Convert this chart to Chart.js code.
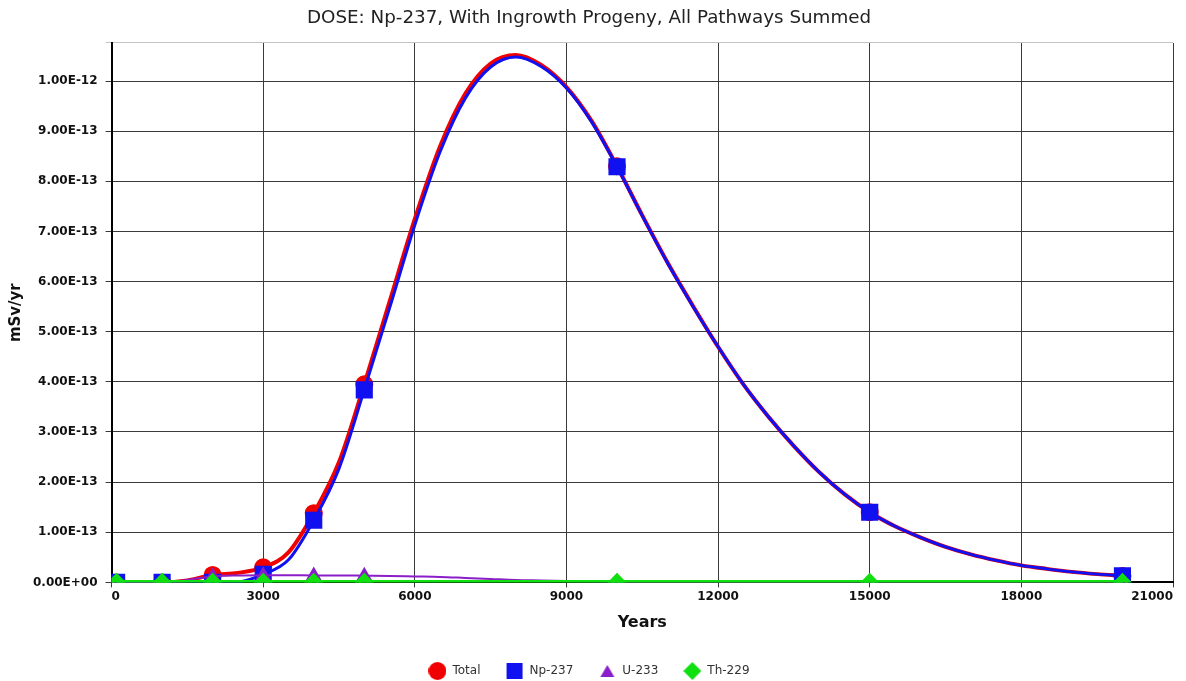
<!DOCTYPE html>
<html>
<head>
<meta charset="utf-8">
<title>Np-237 dose</title>
<script src="https://cdn.jsdelivr.net/npm/chart.js@4.4.1/dist/chart.umd.min.js"></script>
<style>
  html, body { margin: 0; padding: 0; background: #fff; }
  #wrap { width: 1186px; height: 681px; position: relative; }
</style>
</head>
<body>
<div id="wrap"><canvas id="grafico"></canvas></div>
<script>
const grafico = document.getElementById("grafico")

// years after release
const anos = [100, 500, 1000, 1500, 2000, 2500, 3000, 3500, 4000, 4500, 5000,
  5500, 6000, 6500, 7000, 7500, 8000, 8500, 9000, 9500, 10000,
  10500, 11000, 11500, 12000, 12500, 13000, 13500, 14000, 14500, 15000,
  15500, 16000, 16500, 17000, 17500, 18000, 18500, 19000, 19500, 20000]

// dose, mSv/yr
const doseTotal = [0, 0, 0, 4e-15, 1.5e-14, 1.9e-14, 3.0e-14, 6.0e-14, 1.38e-13, 2.4e-13, 3.95e-13,
  5.6e-13, 7.25e-13, 8.7e-13, 9.75e-13, 1.035e-12, 1.052e-12, 1.032e-12, 9.88e-13, 9.2e-13, 8.3e-13,
  7.32e-13, 6.38e-13, 5.52e-13, 4.7e-13, 3.95e-13, 3.3e-13, 2.72e-13, 2.2e-13, 1.76e-13, 1.4e-13,
  1.12e-13, 9.0e-14, 7.1e-14, 5.6e-14, 4.4e-14, 3.4e-14, 2.7e-14, 2.1e-14, 1.65e-14, 1.3e-14]

const doseNp237 = [0, 0, 0, 0, 0, 1e-15, 1.6e-14, 4.5e-14, 1.24e-13, 2.27e-13, 3.84e-13,
  5.47e-13, 7.13e-13, 8.59e-13, 9.66e-13, 1.028e-12, 1.048e-12, 1.029e-12, 9.86e-13, 9.18e-13, 8.29e-13,
  7.31e-13, 6.37e-13, 5.51e-13, 4.7e-13, 3.95e-13, 3.3e-13, 2.72e-13, 2.2e-13, 1.76e-13, 1.4e-13,
  1.12e-13, 9.0e-14, 7.1e-14, 5.6e-14, 4.4e-14, 3.4e-14, 2.7e-14, 2.1e-14, 1.65e-14, 1.3e-14]

const doseU233 = [0, 0, 0, 5e-15, 1.2e-14, 1.4e-14, 1.45e-14, 1.45e-14, 1.4e-14, 1.4e-14, 1.35e-14,
  1.3e-14, 1.2e-14, 1.1e-14, 9e-15, 7e-15, 5e-15, 4e-15, 3e-15, 2e-15, 1e-15,
  1e-15, 1e-15, 5e-16, 5e-16, 5e-16, 0, 0, 0, 0, 0,
  0, 0, 0, 0, 0, 0, 0, 0, 0, 0]

const doseTh229 = [0, 0, 0, 0, 0, 0, 0, 0, 0, 0, 0,
  0, 0, 0, 0, 0, 0, 0, 0, 0, 0,
  0, 0, 0, 0, 0, 0, 0, 0, 0, 0,
  0, 0, 0, 0, 0, 0, 0, 0, 0, 0]

// years that get a symbol on the curves
const anosMarcados = [100, 1000, 2000, 3000, 4000, 5000, 10000, 15000, 20000]

const series = ["Total", "Np-237", "U-233", "Th-229"]
const cores = ["#f00000", "#1010f0", "#8a1ec8", "#10e010"]

const pares = (valores) => anos.map((a, i) => ({ x: a, y: valores[i] }))
const raio = (r) => (ctx) => (ctx.raw && anosMarcados.includes(ctx.raw.x)) ? r : 0

const notacao = (v) => {
    if (Math.abs(v) < 1e-20) return "0.00E+00"
    const [m, e] = v.toExponential(2).split("e")
    const n = parseInt(e)
    return m + "E" + (n < 0 ? "-" : "+") + String(Math.abs(n)).padStart(2, "0")
}

// legend symbols, drawn a bit larger than the chart default
const simbolo = (forma, cor, tam) => {
    const c = document.createElement("canvas")
    c.width = tam
    c.height = tam
    const g = c.getContext("2d")
    const h = tam / 2
    g.fillStyle = cor
    g.beginPath()
    if (forma === "circle") g.arc(h, h, h, 0, Math.PI * 2)
    if (forma === "rect") g.rect(1, 1, tam - 2, tam - 2)
    if (forma === "triangle") { g.moveTo(h, 2); g.lineTo(tam - 1, tam - 2); g.lineTo(1, tam - 2) }
    if (forma === "diamond") { g.moveTo(h, 0); g.lineTo(tam, h); g.lineTo(h, tam); g.lineTo(0, h) }
    g.closePath()
    g.fill()
    return c
}
const simbolosLegenda = [
    simbolo("circle", cores[0], 18),
    simbolo("rect", cores[1], 18),
    simbolo("triangle", cores[2], 16),
    simbolo("diamond", cores[3], 18)
]

Chart.defaults.font.family = '"DejaVu Sans", Verdana, sans-serif'
Chart.defaults.color = "#111"

const linha = "#3a3a3a"

let chart = new Chart(grafico, {
    type: "line",
    data: {
        datasets: [
            {
                label: series[0], data: pares(doseTotal), borderColor: cores[0], backgroundColor: cores[0],
                borderWidth: 4, pointStyle: "circle", pointRadius: raio(7), order: 4
            },
            {
                label: series[1], data: pares(doseNp237), borderColor: cores[1], backgroundColor: cores[1],
                borderWidth: 3, pointStyle: "rect", pointRadius: raio(10), order: 3
            },
            {
                label: series[2], data: pares(doseU233), borderColor: cores[2], backgroundColor: cores[2],
                borderWidth: 2, pointStyle: "triangle", pointRadius: raio(7), order: 2
            },
            {
                label: series[3], data: pares(doseTh229), borderColor: cores[3], backgroundColor: cores[3],
                borderWidth: 5, pointStyle: "rectRot", pointRadius: raio(6), order: 1
            }
        ]
    },
    options: {
        responsive: true,
        maintainAspectRatio: false,
        animation: false,
        layout: { padding: { top: 5, right: 8, bottom: -6, left: 0 } },
        elements: {
            line: { cubicInterpolationMode: "monotone", fill: false },
            point: { borderWidth: 0, hoverRadius: 0 }
        },
        // markers sitting on the axes get cut at the plot edge
        datasets: { line: { clip: 0 } },
        scales: {
            x: {
                type: "linear",
                min: 0,
                max: 21000,
                border: { color: "#000", width: 2 },
                grid: { color: linha, lineWidth: 1, tickLength: 5 },
                ticks: {
                    stepSize: 3000, align: "inner", padding: 2, color: "#111",
                    font: { size: 12, weight: "bold" },
                    callback: (v) => String(v)
                },
                title: { display: true, text: "Years", color: "#111", font: { size: 16, weight: "bold" }, padding: { top: 7, bottom: 8 } }
            },
            y: {
                min: 0,
                max: 1.076e-12,
                border: { color: "#000", width: 2 },
                grid: {
                    lineWidth: 1,
                    tickLength: 6,
                    color: (ctx) => (ctx.tick && ctx.tick.value > 1.0001e-12) ? "#c4c4c4" : linha
                },
                ticks: {
                    stepSize: 1e-13,
                    padding: 8,
                    color: "#111",
                    font: { size: 12, weight: "bold" },
                    callback: (v) => v > 1.0001e-12 ? "" : notacao(v)
                },
                title: { display: true, text: "mSv/yr", color: "#111", font: { size: 15, weight: "bold" }, padding: { top: 7, bottom: 0 } }
            }
        },
        plugins: {
            title: {
                display: true,
                text: "DOSE: Np-237, With Ingrowth Progeny, All Pathways Summed",
                color: "#222",
                font: { size: 18.3, weight: "normal" },
                padding: { top: 2, bottom: 14 }
            },
            legend: {
                position: "bottom",
                labels: {
                    usePointStyle: true,
                    pointStyleWidth: 18,
                    color: "#333",
                    font: { size: 12 },
                    padding: 25,
                    sort: (a, b) => a.datasetIndex - b.datasetIndex,
                    generateLabels: (c) => Chart.defaults.plugins.legend.labels.generateLabels(c)
                        .map(item => ({ ...item, pointStyle: simbolosLegenda[item.datasetIndex] }))
                }
            },
            tooltip: { enabled: false }
        }
    }
});
</script>
</body>
</html>
